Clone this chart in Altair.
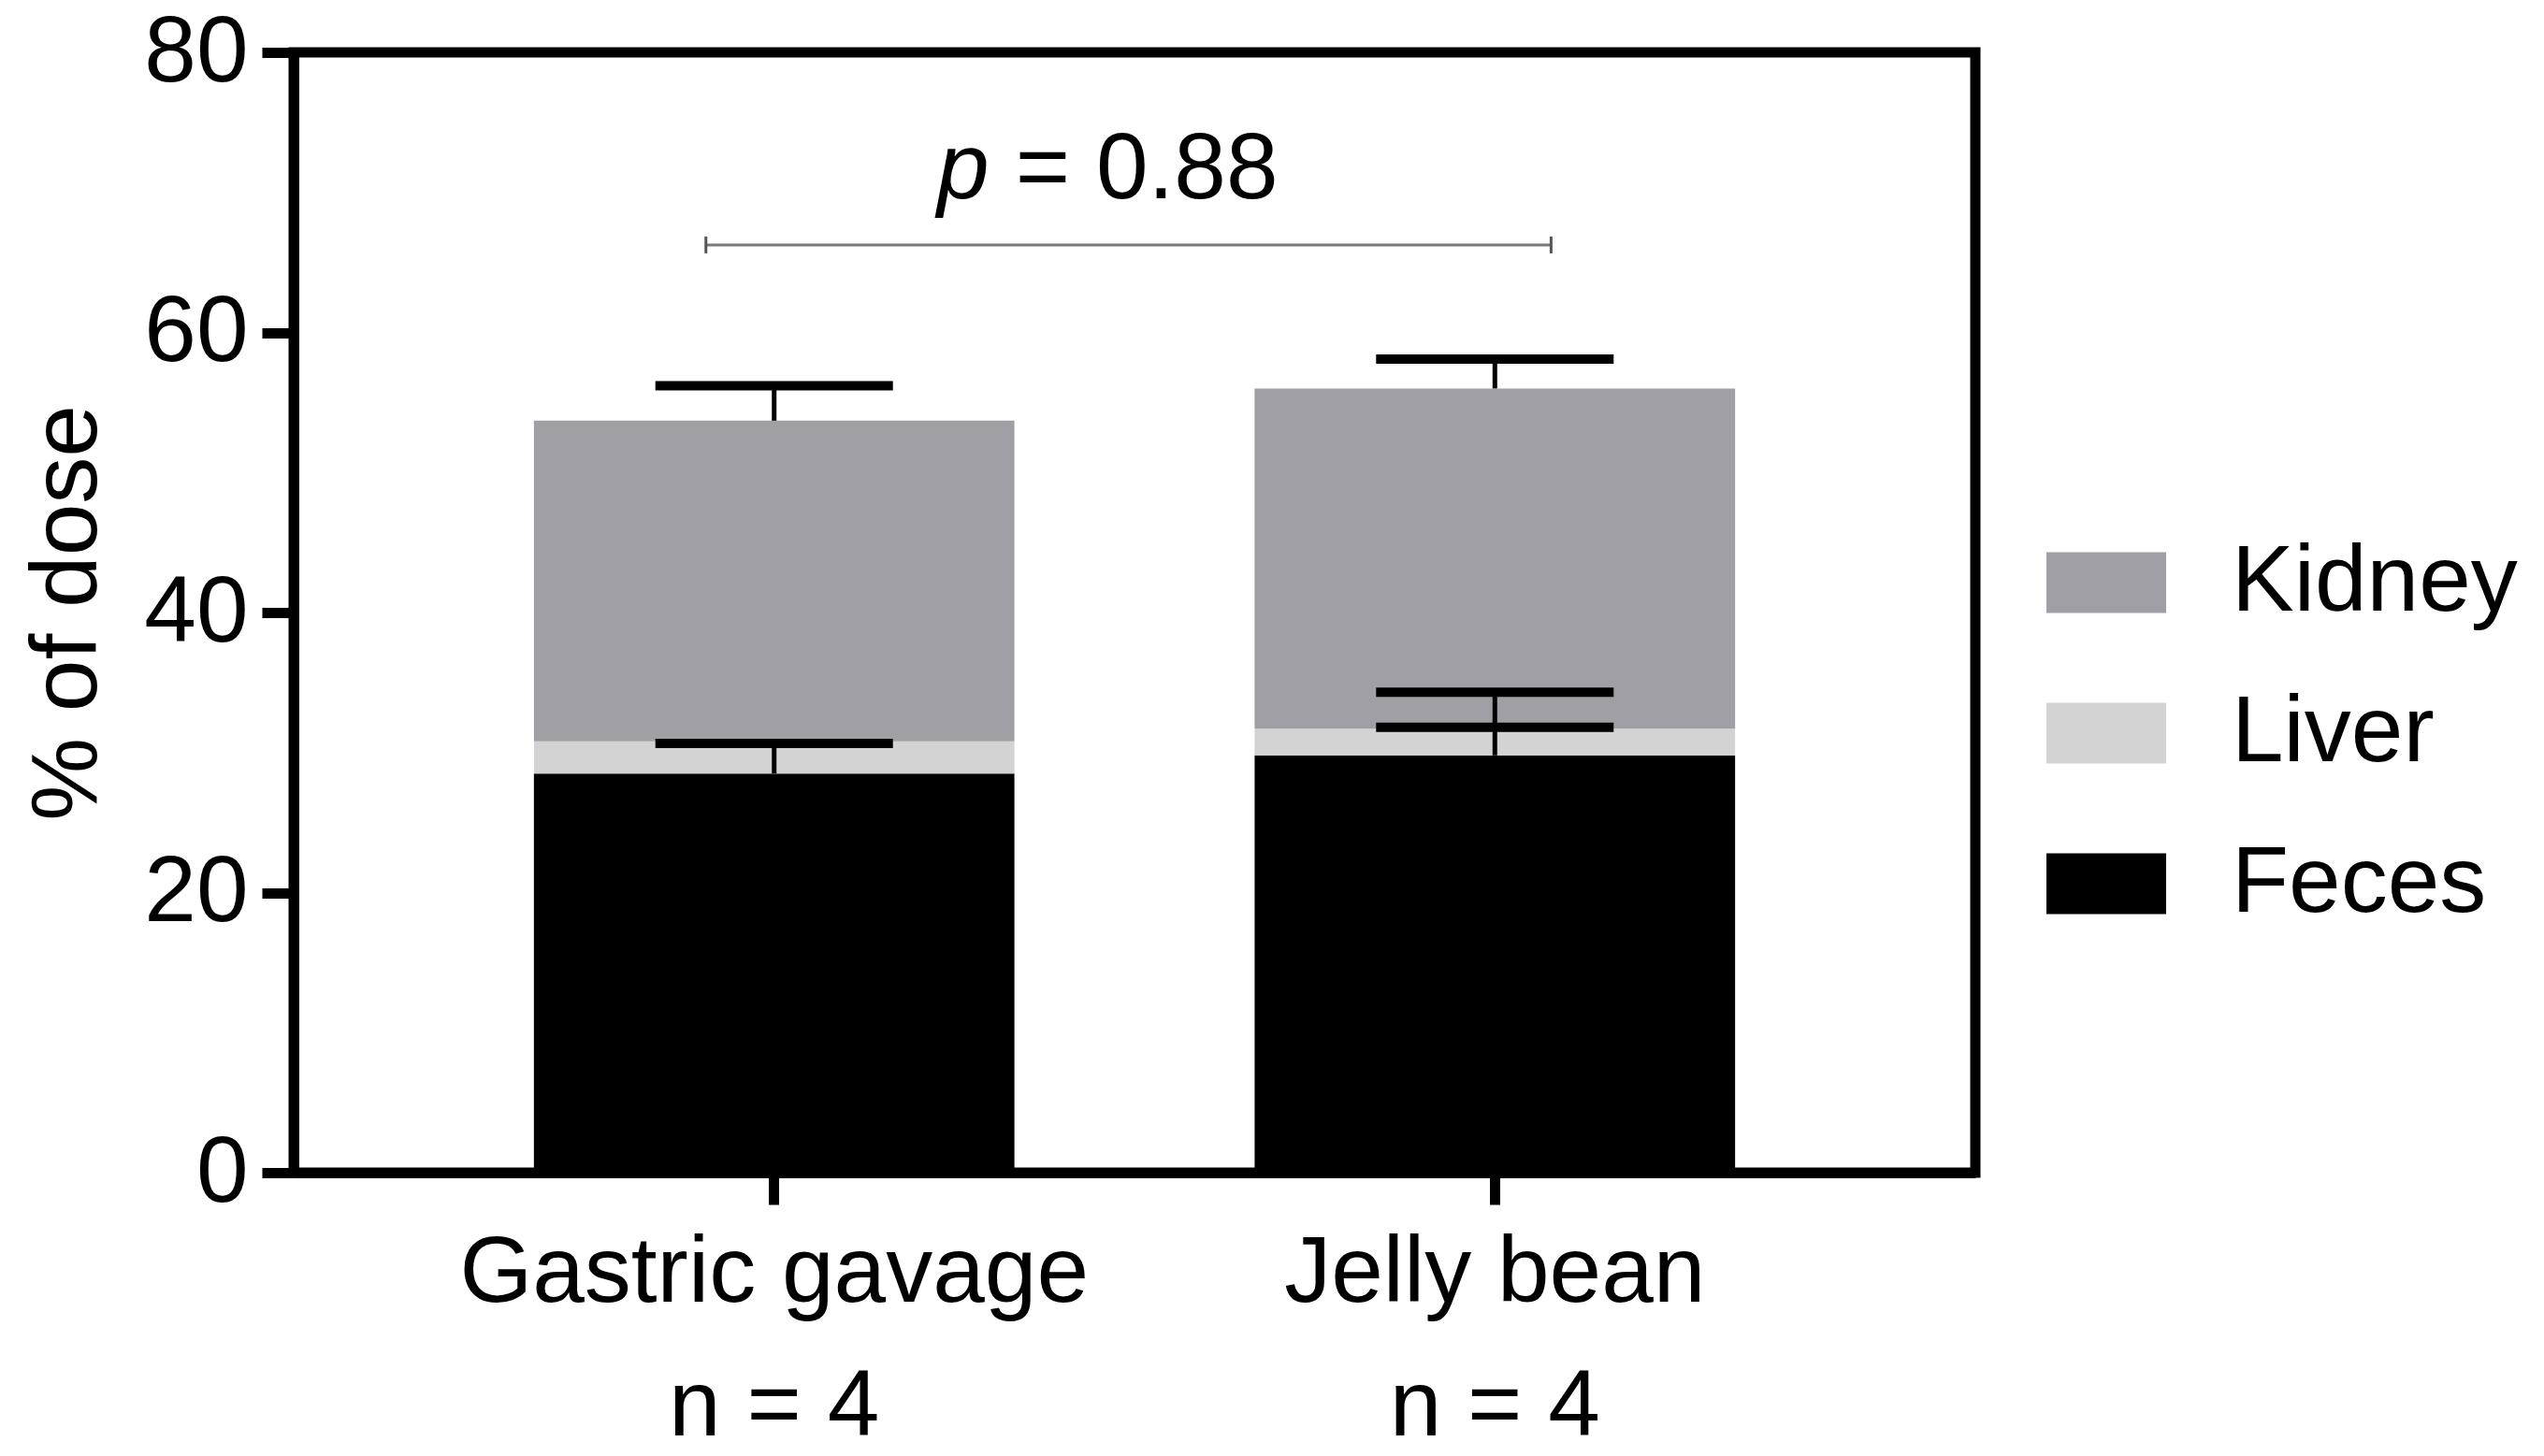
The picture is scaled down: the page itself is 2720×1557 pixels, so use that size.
import altair as alt
import pandas as pd

# ---- data ----
groups = ["Gastric gavage", "Jelly bean"]
n_labels = ["n = 4", "n = 4"]
segments = ["Feces", "Liver", "Kidney"]          # stacking order, bottom to top
feces = [28.5, 29.8]
liver = [2.3, 1.9]
kidney = [22.9, 24.3]
feces_sd = [2.15, 4.5]
liver_sd = [None, 0.1]
kidney_sd = [2.5, 2.1]
legend_order = ["Kidney", "Liver", "Feces"]
legend_colors = ["#a09fa5", "#d3d3d3", "#000000"]
p_value = "0.88"
bracket_y = 66.25
p_text_y = 69.6
y_ticks = [0, 20, 40, 60, 80]

FONT = "Liberation Sans"
FS = 100

cats = [f"{g}|{n}" for g, n in zip(groups, n_labels)]
seg_vals = {"Feces": feces, "Liver": liver, "Kidney": kidney}
seg_sd = {"Feces": feces_sd, "Liver": liver_sd, "Kidney": kidney_sd}

bar_rows, err_rows = [], []
for i, c in enumerate(cats):
    base = 0.0
    for s in segments:
        top = base + seg_vals[s][i]
        bar_rows.append({"cat": c, "segment": s, "y0": base, "y1": top})
        sd = seg_sd[s][i]
        if sd is not None:
            err_rows.append({"cat": c, "segment": s, "top": top, "cap": top + sd})
        base = top
bars_df = pd.DataFrame(bar_rows)
err_df = pd.DataFrame(err_rows)
cmp_df = pd.DataFrame({"g1": [cats[0]], "g2": [cats[1]], "y": [bracket_y],
                       "ty": [p_text_y], "pl": ["p"], "pv": ["= " + p_value]})

x_scale = alt.Scale(domain=cats, paddingInner=1 / 3, paddingOuter=1 / 3)
y_scale = alt.Scale(domain=[0, 80], nice=False)
x_axis = alt.Axis(title=None, labelExpr="split(datum.label, '|')", labelAngle=0,
                  labelLimit=2000, labelOverlap=False, labelLineHeight=143,
                  labelPadding=24)
y_axis = alt.Axis(title="% of dose", values=y_ticks, labelPadding=15, titlePadding=30,
                  labelOverlap=False)

bars = alt.Chart(bars_df).mark_bar().encode(
    x=alt.X("cat:N", scale=x_scale, axis=x_axis, sort=cats),
    y=alt.Y("y0:Q", scale=y_scale, axis=y_axis),
    y2="y1:Q",
    color=alt.Color("segment:N",
                    scale=alt.Scale(domain=legend_order, range=legend_colors),
                    legend=alt.Legend(title=None, orient="none", legendX=1874, legendY=503,
                                      symbolType="M-1,-0.508H1V0.508H-1Z",
                                      symbolSize=16384, symbolStrokeWidth=0,
                                      symbolOpacity=1,
                                      labelFontSize=FS, labelFont=FONT, labelColor="black",
                                      labelOffset=70, rowPadding=47, padding=0,
                                      labelLimit=2000)),
)

stems = alt.Chart(err_df).mark_rule(color="black", strokeWidth=5).encode(
    x=alt.X("cat:N", scale=x_scale, axis=x_axis),
    y=alt.Y("top:Q", scale=y_scale, axis=y_axis),
    y2="cap:Q",
)
caps = alt.Chart(err_df).mark_tick(color="black", size=254, thickness=10, opacity=1).encode(
    x=alt.X("cat:N", scale=x_scale, axis=x_axis),
    y=alt.Y("cap:Q", scale=y_scale, axis=y_axis),
)

bracket = alt.Chart(cmp_df).mark_rule(color="#7a7a7a", strokeWidth=3).encode(
    x=alt.X("g1:N", scale=x_scale, axis=x_axis, bandPosition=0.358),
    x2=alt.X2("g2", bandPosition=0.617),
    y=alt.Y("y:Q", scale=y_scale, axis=y_axis),
)
end1 = alt.Chart(cmp_df).mark_tick(color="#555555", orient="vertical", size=18,
                                   thickness=3, opacity=1).encode(
    x=alt.X("g1:N", scale=x_scale, axis=x_axis, bandPosition=0.358),
    y=alt.Y("y:Q", scale=y_scale, axis=y_axis),
)
end2 = alt.Chart(cmp_df).mark_tick(color="#555555", orient="vertical", size=18,
                                   thickness=3, opacity=1).encode(
    x=alt.X("g2:N", scale=x_scale, axis=x_axis, bandPosition=0.617),
    y=alt.Y("y:Q", scale=y_scale, axis=y_axis),
)
p_txt = alt.Chart(cmp_df).mark_text(font=FONT, fontSize=FS, fontStyle="italic",
                                    align="right", baseline="alphabetic", dx=-14,
                                    color="black").encode(
    x=alt.X("g1:N", scale=x_scale, axis=x_axis, bandPosition=0.975),
    y=alt.Y("ty:Q", scale=y_scale, axis=y_axis),
    text="pl:N",
)
v_txt = alt.Chart(cmp_df).mark_text(font=FONT, fontSize=FS, align="left",
                                    baseline="alphabetic", dx=14, color="black").encode(
    x=alt.X("g1:N", scale=x_scale, axis=x_axis, bandPosition=0.975),
    y=alt.Y("ty:Q", scale=y_scale, axis=y_axis),
    text="pv:N",
)

chart = alt.layer(bars, stems, caps, bracket, end1, end2, p_txt, v_txt).properties(
    width=1798, height=1198,
    autosize=alt.AutoSizeParams(type="none"),
    padding={"left": 306, "top": 48, "right": 590, "bottom": 298},
    background="white",
).configure_view(
    stroke="black", strokeWidth=11
).configure_axis(
    domainColor="black", domainWidth=11, tickColor="black", tickWidth=11, tickSize=34,
    labelFont=FONT, labelFontSize=FS, labelColor="black", grid=False,
    titleFont=FONT, titleFontSize=FS, titleFontWeight="normal", titleColor="black",
)

chart.save("out.html", embed_options={"renderer": "svg", "actions": False})
